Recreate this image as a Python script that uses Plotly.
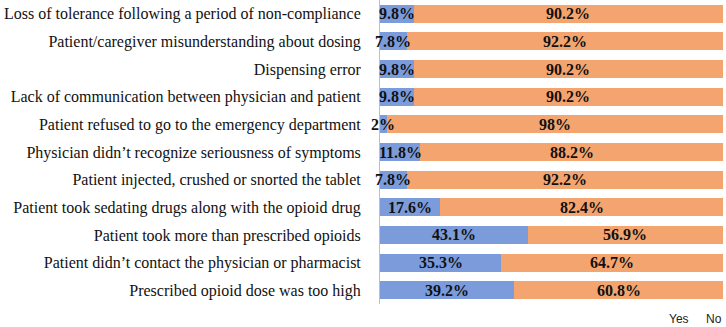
import plotly.graph_objects as go

categories = [
    "Loss of tolerance following a period of non-compliance",
    "Patient/caregiver misunderstanding about dosing",
    "Dispensing error",
    "Lack of communication between physician and patient",
    "Patient refused to go to the emergency department",
    "Physician didn\u2019t recognize seriousness of symptoms",
    "Patient injected, crushed or snorted the tablet",
    "Patient took sedating drugs along with the opioid drug",
    "Patient took more than prescribed opioids",
    "Patient didn\u2019t contact the physician or pharmacist",
    "Prescribed opioid dose was too high",
]
yes_values = [9.8, 7.8, 9.8, 9.8, 2, 11.8, 7.8, 17.6, 43.1, 35.3, 39.2]
no_values = [90.2, 92.2, 90.2, 90.2, 98, 88.2, 92.2, 82.4, 56.9, 64.7, 60.8]
series_names = ["Yes", "No"]

BLUE = "#7B9BDB"
ORANGE = "#F4A46F"
LABEL_FONT = dict(family="Liberation Serif", size=16, color="#111111")

fig = go.Figure()
fig.add_trace(go.Bar(y=categories, x=yes_values, orientation="h", name=series_names[0],
                     marker=dict(color=BLUE, line=dict(width=0)), hoverinfo="x+y"))
fig.add_trace(go.Bar(y=categories, x=no_values, orientation="h", name=series_names[1],
                     marker=dict(color=ORANGE, line=dict(width=0)), hoverinfo="x+y"))

annotations = []
for cat, y, n in zip(categories, yes_values, no_values):
    annotations.append(dict(x=y / 2, y=cat, xref="x", yref="y", text=f"<b>{y:g}%</b>",
                            showarrow=False, xanchor="center", font=LABEL_FONT))
    annotations.append(dict(x=y + n / 2, y=cat, xref="x", yref="y", text=f"<b>{n:g}%</b>",
                            showarrow=False, xanchor="center", font=LABEL_FONT))

# legend text (as in reference, text only)
for name, xpos in zip(series_names, [0.872, 0.974]):
    annotations.append(dict(x=xpos, y=0, xref="paper", yref="paper", yshift=-15,
                            text=name, showarrow=False, xanchor="center", yanchor="middle",
                            font=dict(family="Liberation Sans", size=12, color="#222222")))

fig.update_layout(
    barmode="stack",
    bargap=0.35,
    width=726, height=327,
    margin=dict(l=380, r=3, t=0, b=23, autoexpand=False),
    paper_bgcolor="white", plot_bgcolor="white",
    showlegend=False,
    annotations=annotations,
    xaxis=dict(range=[0, 100], showticklabels=False, showgrid=False, zeroline=False,
               showline=False, ticks="", fixedrange=True),
    yaxis=dict(categoryorder="array", categoryarray=categories[::-1],
               showgrid=False, zeroline=False, showline=True, linecolor="#BFBFBF",
               linewidth=1, ticks="", ticklabelstandoff=15,
               tickfont=dict(family="Liberation Serif", size=16, color="#111111"),
               automargin=False, fixedrange=True),
)

fig.write_html("out.html", config={"displayModeBar": False},
               post_script="document.body.style.margin='0';document.body.style.overflow='hidden';")
